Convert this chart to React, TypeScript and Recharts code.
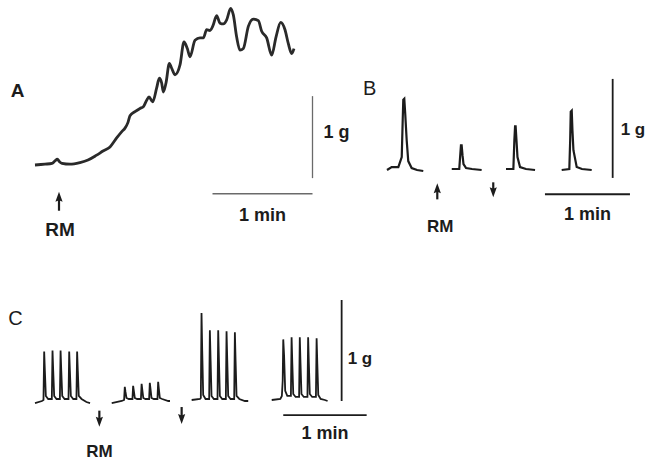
import React from 'react';
import { LineChart, Line, XAxis, YAxis, ReferenceLine, ReferenceDot } from 'recharts';

type Pt = { t: number; g: number };

// ---- Panel A: slow contracture (time in s, force in g) ----
const traceA: Pt[] = [
  { t: 0, g: 0 }, { t: 6, g: 0.01 }, { t: 10.2, g: 0.02 }, { t: 12, g: 0.05 }, { t: 13.4, g: 0.07 },
  { t: 14.7, g: 0.04 }, { t: 16.2, g: 0.02 }, { t: 21, g: 0.01 }, { t: 27, g: 0.03 }, { t: 31.8, g: 0.06 },
  { t: 37, g: 0.12 }, { t: 40.8, g: 0.17 }, { t: 45, g: 0.22 }, { t: 49, g: 0.33 }, { t: 52.2, g: 0.41 },
  { t: 54, g: 0.45 }, { t: 55.8, g: 0.52 }, { t: 57, g: 0.6 }, { t: 60, g: 0.65 }, { t: 63, g: 0.69 },
  { t: 65, g: 0.71 }, { t: 67, g: 0.79 }, { t: 68.4, g: 0.83 }, { t: 70.6, g: 0.77 }, { t: 73, g: 0.94 },
  { t: 74.6, g: 1.06 }, { t: 76, g: 1.0 }, { t: 77, g: 0.89 }, { t: 78.6, g: 1.0 }, { t: 80.6, g: 1.24 },
  { t: 82, g: 1.18 }, { t: 84, g: 1.1 }, { t: 87, g: 1.22 }, { t: 89.4, g: 1.5 }, { t: 91.4, g: 1.42 },
  { t: 93, g: 1.32 }, { t: 96, g: 1.52 }, { t: 99, g: 1.55 }, { t: 101, g: 1.55 }, { t: 103, g: 1.65 },
  { t: 105, g: 1.64 }, { t: 106.6, g: 1.69 }, { t: 109, g: 1.82 }, { t: 111, g: 1.73 }, { t: 113, g: 1.72 },
  { t: 115, g: 1.77 }, { t: 117.4, g: 1.91 }, { t: 119, g: 1.83 }, { t: 121, g: 1.56 }, { t: 123, g: 1.4 },
  { t: 125, g: 1.42 }, { t: 128, g: 1.69 }, { t: 131, g: 1.78 }, { t: 134, g: 1.76 }, { t: 136, g: 1.63 },
  { t: 139, g: 1.55 }, { t: 142, g: 1.34 }, { t: 144.6, g: 1.56 }, { t: 147.4, g: 1.74 }, { t: 150, g: 1.65 },
  { t: 152, g: 1.48 }, { t: 154, g: 1.36 }, { t: 155.4, g: 1.42 },
];

// ---- Panel B: single twitches ----
const traceB1: Pt[] = [
  { t: 0, g: 0 }, { t: 3.3, g: 0.03 }, { t: 8.0, g: 0.03 }, { t: 10.4, g: 0.13 }, { t: 11.1, g: 0.51 },
  { t: 11.5, g: 0.71 }, { t: 12.2, g: 0.72 }, { t: 12.9, g: 0.56 }, { t: 13.9, g: 0.3 }, { t: 15.0, g: 0.09 },
  { t: 17.4, g: 0.02 }, { t: 21.2, g: 0 }, { t: 25.6, g: -0.01 },
];
const traceB2: Pt[] = [
  { t: 45.7, g: 0.01 }, { t: 51.0, g: 0.01 }, { t: 51.7, g: 0.15 }, { t: 52.2, g: 0.25 }, { t: 52.7, g: 0.25 },
  { t: 53.3, g: 0.15 }, { t: 54.0, g: 0.06 }, { t: 55.8, g: 0.02 }, { t: 60.0, g: 0.01 }, { t: 66.8, g: 0 },
];
const traceB3: Pt[] = [
  { t: 84.0, g: 0.01 }, { t: 89.2, g: 0.01 }, { t: 89.9, g: 0.3 }, { t: 90.4, g: 0.44 }, { t: 90.8, g: 0.44 },
  { t: 91.4, g: 0.3 }, { t: 92.1, g: 0.13 }, { t: 93.9, g: 0.03 }, { t: 98.1, g: 0.01 }, { t: 104.5, g: 0 },
];
const traceB4: Pt[] = [
  { t: 123.3, g: 0 }, { t: 128.7, g: 0.01 }, { t: 129.3, g: 0.3 }, { t: 129.7, g: 0.59 }, { t: 130.4, g: 0.6 },
  { t: 130.9, g: 0.4 }, { t: 131.6, g: 0.2 }, { t: 133.9, g: 0.03 }, { t: 137.6, g: 0.01 }, { t: 144.5, g: 0 },
];

// ---- Panel C: trains of twitches ----
const traceC1: Pt[] = [
  { t: 0, g: -0.02 }, { t: 5.0, g: 0 },
  { t: 6.1, g: 0.01 }, { t: 6.6, g: 0.49 }, { t: 7.1, g: 0.3 }, { t: 7.8, g: 0.05 }, { t: 9.5, g: 0.02 },
  { t: 12.1, g: 0.02 }, { t: 12.6, g: 0.5 }, { t: 13.1, g: 0.3 }, { t: 13.8, g: 0.05 }, { t: 15.5, g: 0.02 },
  { t: 17.9, g: 0.02 }, { t: 18.4, g: 0.5 }, { t: 18.9, g: 0.3 }, { t: 19.6, g: 0.05 }, { t: 21.3, g: 0.02 },
  { t: 24.1, g: 0.02 }, { t: 24.6, g: 0.49 }, { t: 25.1, g: 0.3 }, { t: 25.8, g: 0.05 }, { t: 27.5, g: 0.02 },
  { t: 29.8, g: 0.02 }, { t: 30.3, g: 0.49 }, { t: 30.8, g: 0.3 }, { t: 31.5, g: 0.05 }, { t: 33.5, g: 0.02 },
  { t: 37, g: -0.01 }, { t: 39.6, g: -0.02 },
];
const traceC2: Pt[] = [
  { t: 55.2, g: -0.02 }, { t: 62.4, g: 0 },
  { t: 64.1, g: 0.01 }, { t: 64.6, g: 0.14 }, { t: 65.1, g: 0.09 }, { t: 65.8, g: 0.03 }, { t: 67.5, g: 0.02 },
  { t: 70.1, g: 0.02 }, { t: 70.6, g: 0.15 }, { t: 71.1, g: 0.1 }, { t: 71.8, g: 0.03 }, { t: 73.5, g: 0.02 },
  { t: 76.2, g: 0.02 }, { t: 76.7, g: 0.17 }, { t: 77.2, g: 0.11 }, { t: 77.9, g: 0.03 }, { t: 79.5, g: 0.02 },
  { t: 82.1, g: 0.02 }, { t: 82.6, g: 0.18 }, { t: 83.1, g: 0.12 }, { t: 83.8, g: 0.03 }, { t: 85.5, g: 0.02 },
  { t: 88.1, g: 0.02 }, { t: 88.6, g: 0.19 }, { t: 89.1, g: 0.12 }, { t: 89.8, g: 0.03 }, { t: 91.5, g: 0.02 },
  { t: 95.9, g: 0 }, { t: 97.1, g: 0 },
];
const traceC3: Pt[] = [
  { t: 112.7, g: 0.01 }, { t: 118.7, g: 0.02 },
  { t: 119.3, g: 0.03 }, { t: 119.8, g: 0.87 }, { t: 120.3, g: 0.5 }, { t: 121.0, g: 0.06 }, { t: 122.7, g: 0.02 },
  { t: 125.3, g: 0.02 }, { t: 125.8, g: 0.7 }, { t: 126.3, g: 0.42 }, { t: 127.0, g: 0.05 }, { t: 128.7, g: 0.02 },
  { t: 131.3, g: 0.02 }, { t: 131.8, g: 0.7 }, { t: 132.3, g: 0.42 }, { t: 133.0, g: 0.05 }, { t: 134.7, g: 0.02 },
  { t: 137.3, g: 0.02 }, { t: 137.8, g: 0.69 }, { t: 138.3, g: 0.41 }, { t: 139.0, g: 0.05 }, { t: 140.7, g: 0.02 },
  { t: 143.3, g: 0.02 }, { t: 143.8, g: 0.68 }, { t: 144.3, g: 0.4 }, { t: 145.0, g: 0.05 }, { t: 147.0, g: 0.02 },
  { t: 151, g: 0 }, { t: 153.4, g: 0 },
];
const traceC4: Pt[] = [
  { t: 170.3, g: 0.01 }, { t: 176.5, g: 0.02 }, { t: 177.6, g: 0.05 },
  { t: 178.2, g: 0.2 }, { t: 178.6, g: 0.61 }, { t: 179.2, g: 0.45 }, { t: 180.0, g: 0.1 }, { t: 181.5, g: 0.05 },
  { t: 184.1, g: 0.05 }, { t: 184.6, g: 0.63 }, { t: 185.1, g: 0.38 }, { t: 185.8, g: 0.07 }, { t: 187.5, g: 0.04 },
  { t: 190.0, g: 0.04 }, { t: 190.5, g: 0.63 }, { t: 191.0, g: 0.38 }, { t: 191.7, g: 0.07 }, { t: 193.4, g: 0.04 },
  { t: 196.0, g: 0.04 }, { t: 196.5, g: 0.63 }, { t: 197.0, g: 0.38 }, { t: 197.7, g: 0.07 }, { t: 199.4, g: 0.04 },
  { t: 202.1, g: 0.04 }, { t: 202.6, g: 0.62 }, { t: 203.1, g: 0.37 }, { t: 203.8, g: 0.06 }, { t: 205.5, g: 0.02 },
  { t: 208.5, g: 0.01 }, { t: 210.5, g: 0 },
];

// ---- annotations (data units) ----
const panelLetters = ['A', 'B', 'C'];
const drugLabel = 'RM';
const timeBarLabel = '1 min';
const forceBarLabel = '1 g';
const timeBarSec = 60;
const forceBarG = 1;

// scale-bar anchors: time of vertical bar, g at its bottom, g of horizontal bar, start time of horizontal bar
const barsA = { tV: 166.5, gV0: -0.16, gH: -0.35, tH0: 106.5 };
const barsB = { tV: 159.3, gV0: -0.08, gH: -0.245, tH0: 111.5 };
const barsC = { tV: 220.6, gV0: 0.0, gH: -0.139, tH0: 178.6 };

const FONT = '"Liberation Sans", Arial, Helvetica, sans-serif';
const INK = '#1c1c1c';

type Frame = { left: number; top: number; width: number; height: number; x0: number; y0: number; pxPerSec: number; pxPerG: number };

const frameA: Frame = { left: 0, top: 0, width: 355, height: 245, x0: 35, y0: 165, pxPerSec: 100 / 60, pxPerG: 82 };
const frameB: Frame = { left: 355, top: 60, width: 294, height: 185, x0: 387, y0: 170, pxPerSec: 85 / 60, pxPerG: 99 };
const frameC: Frame = { left: 0, top: 285, width: 649, height: 176, x0: 35, y0: 401, pxPerSec: 83.4 / 60, pxPerG: 101 };

const xDom = (f: Frame): [number, number] => [(f.left - f.x0) / f.pxPerSec, (f.left + f.width - f.x0) / f.pxPerSec];
const yDom = (f: Frame): [number, number] => [(f.y0 - (f.top + f.height)) / f.pxPerG, (f.y0 - f.top) / f.pxPerG];

const textShape = (s: string, size: number, weight: string, anchor: 'start' | 'middle' | 'end' = 'start', dx = 0) =>
  (p: any) => (
    <text x={p.cx + dx} y={p.cy} textAnchor={anchor} fontSize={size} fontWeight={weight} fill={INK} fontFamily={FONT}>
      {s}
    </text>
  );

const arrowShape = (dir: 'up' | 'down', len: number) => (p: any) => {
  const { cx, cy } = p;
  const s = dir === 'up' ? 1 : -1;
  return (
    <g>
      <line x1={cx} y1={cy + s * 6} x2={cx} y2={cy + s * len} stroke={INK} strokeWidth={2.2} />
      <polygon points={`${cx},${cy} ${cx - 3.6},${cy + s * 10} ${cx},${cy + s * 8.5} ${cx + 3.6},${cy + s * 10}`} fill={INK} />
    </g>
  );
};

function Panel({ frame, children }: { frame: Frame; children: React.ReactNode }) {
  return (
    <div style={{ position: 'absolute', left: frame.left, top: frame.top, width: frame.width, height: frame.height }}>
      <LineChart width={frame.width} height={frame.height} margin={{ top: 0, right: 0, bottom: 0, left: 0 }}>
        <XAxis type="number" dataKey="t" domain={xDom(frame)} allowDataOverflow hide />
        <YAxis type="number" dataKey="g" domain={yDom(frame)} allowDataOverflow hide />
        {children}
      </LineChart>
    </div>
  );
}

function scaleBars(b: { tV: number; gV0: number; gH: number; tH0: number }, stroke: string, w: number, wh: number) {
  return [
    <ReferenceLine key="v" segment={[{ x: b.tV, y: b.gV0 }, { x: b.tV, y: b.gV0 + forceBarG }]} stroke={stroke} strokeWidth={w} ifOverflow="visible" />,
    <ReferenceLine key="h" segment={[{ x: b.tH0, y: b.gH }, { x: b.tH0 + timeBarSec, y: b.gH }]} stroke={stroke} strokeWidth={wh} ifOverflow="visible" />,
  ];
}

export default function App() {
  const lineProps = { dataKey: 'g', dot: false, activeDot: false, isAnimationActive: false } as const;
  return (
    <div style={{ position: 'absolute', left: 0, top: 0, width: 649, height: 461, background: '#ffffff', overflow: 'hidden' }}>
      <Panel frame={frameA}>
        <Line {...lineProps} data={traceA} type="monotone" stroke="#2a2a2a" strokeWidth={2.8} />
        {scaleBars(barsA, '#6a6a6a', 1.3, 1.6)}
        <ReferenceDot x={-14.6} y={0.833} ifOverflow="visible" shape={textShape(panelLetters[0], 19, 'bold')} />
        <ReferenceDot x={14.4} y={-0.326} ifOverflow="visible" shape={arrowShape('up', 19)} />
        <ReferenceDot x={15.0} y={-0.866} ifOverflow="visible" shape={textShape(drugLabel, 19, 'bold', 'middle')} />
        <ReferenceDot x={barsA.tV} y={0.326} ifOverflow="visible" shape={textShape(forceBarLabel, 18, 'bold', 'start', 11)} />
        <ReferenceDot x={barsA.tH0 + timeBarSec / 2} y={-0.679} ifOverflow="visible" shape={textShape(timeBarLabel, 18, 'bold', 'middle')} />
      </Panel>

      <Panel frame={frameB}>
        <Line {...lineProps} data={traceB1} type="linear" stroke={INK} strokeWidth={2.2} />
        <Line {...lineProps} data={traceB2} type="linear" stroke={INK} strokeWidth={2.2} />
        <Line {...lineProps} data={traceB3} type="linear" stroke={INK} strokeWidth={2.2} />
        <Line {...lineProps} data={traceB4} type="linear" stroke={INK} strokeWidth={2.2} />
        {scaleBars(barsB, INK, 1.8, 1.8)}
        <ReferenceDot x={-16.9} y={0.758} ifOverflow="visible" shape={textShape(panelLetters[1], 20, 'normal')} />
        <ReferenceDot x={35.5} y={-0.135} ifOverflow="visible" shape={arrowShape('up', 16)} />
        <ReferenceDot x={75.0} y={-0.276} ifOverflow="visible" shape={arrowShape('down', 15)} />
        <ReferenceDot x={37.5} y={-0.623} ifOverflow="visible" shape={textShape(drugLabel, 17, 'bold', 'middle')} />
        <ReferenceDot x={barsB.tV} y={0.354} ifOverflow="visible" shape={textShape(forceBarLabel, 17, 'bold', 'start', 8)} />
        <ReferenceDot x={barsB.tH0 + timeBarSec / 2} y={-0.505} ifOverflow="visible" shape={textShape(timeBarLabel, 18, 'bold', 'middle')} />
      </Panel>

      <Panel frame={frameC}>
        <Line {...lineProps} data={traceC1} type="linear" stroke={INK} strokeWidth={1.8} />
        <Line {...lineProps} data={traceC2} type="linear" stroke={INK} strokeWidth={1.8} />
        <Line {...lineProps} data={traceC3} type="linear" stroke={INK} strokeWidth={1.8} />
        <Line {...lineProps} data={traceC4} type="linear" stroke={INK} strokeWidth={1.8} />
        {scaleBars(barsC, INK, 1.8, 1.8)}
        <ReferenceDot x={-19.2} y={0.752} ifOverflow="visible" shape={textShape(panelLetters[2], 20, 'normal')} />
        <ReferenceDot x={46.3} y={-0.254} ifOverflow="visible" shape={arrowShape('down', 16)} />
        <ReferenceDot x={105.5} y={-0.228} ifOverflow="visible" shape={arrowShape('down', 17)} />
        <ReferenceDot x={46.3} y={-0.551} ifOverflow="visible" shape={textShape(drugLabel, 17, 'bold', 'middle')} />
        <ReferenceDot x={barsC.tV} y={0.366} ifOverflow="visible" shape={textShape(forceBarLabel, 17, 'bold', 'start', 6)} />
        <ReferenceDot x={barsC.tH0 + timeBarSec / 2} y={-0.379} ifOverflow="visible" shape={textShape(timeBarLabel, 18, 'bold', 'middle')} />
      </Panel>
    </div>
  );
}
